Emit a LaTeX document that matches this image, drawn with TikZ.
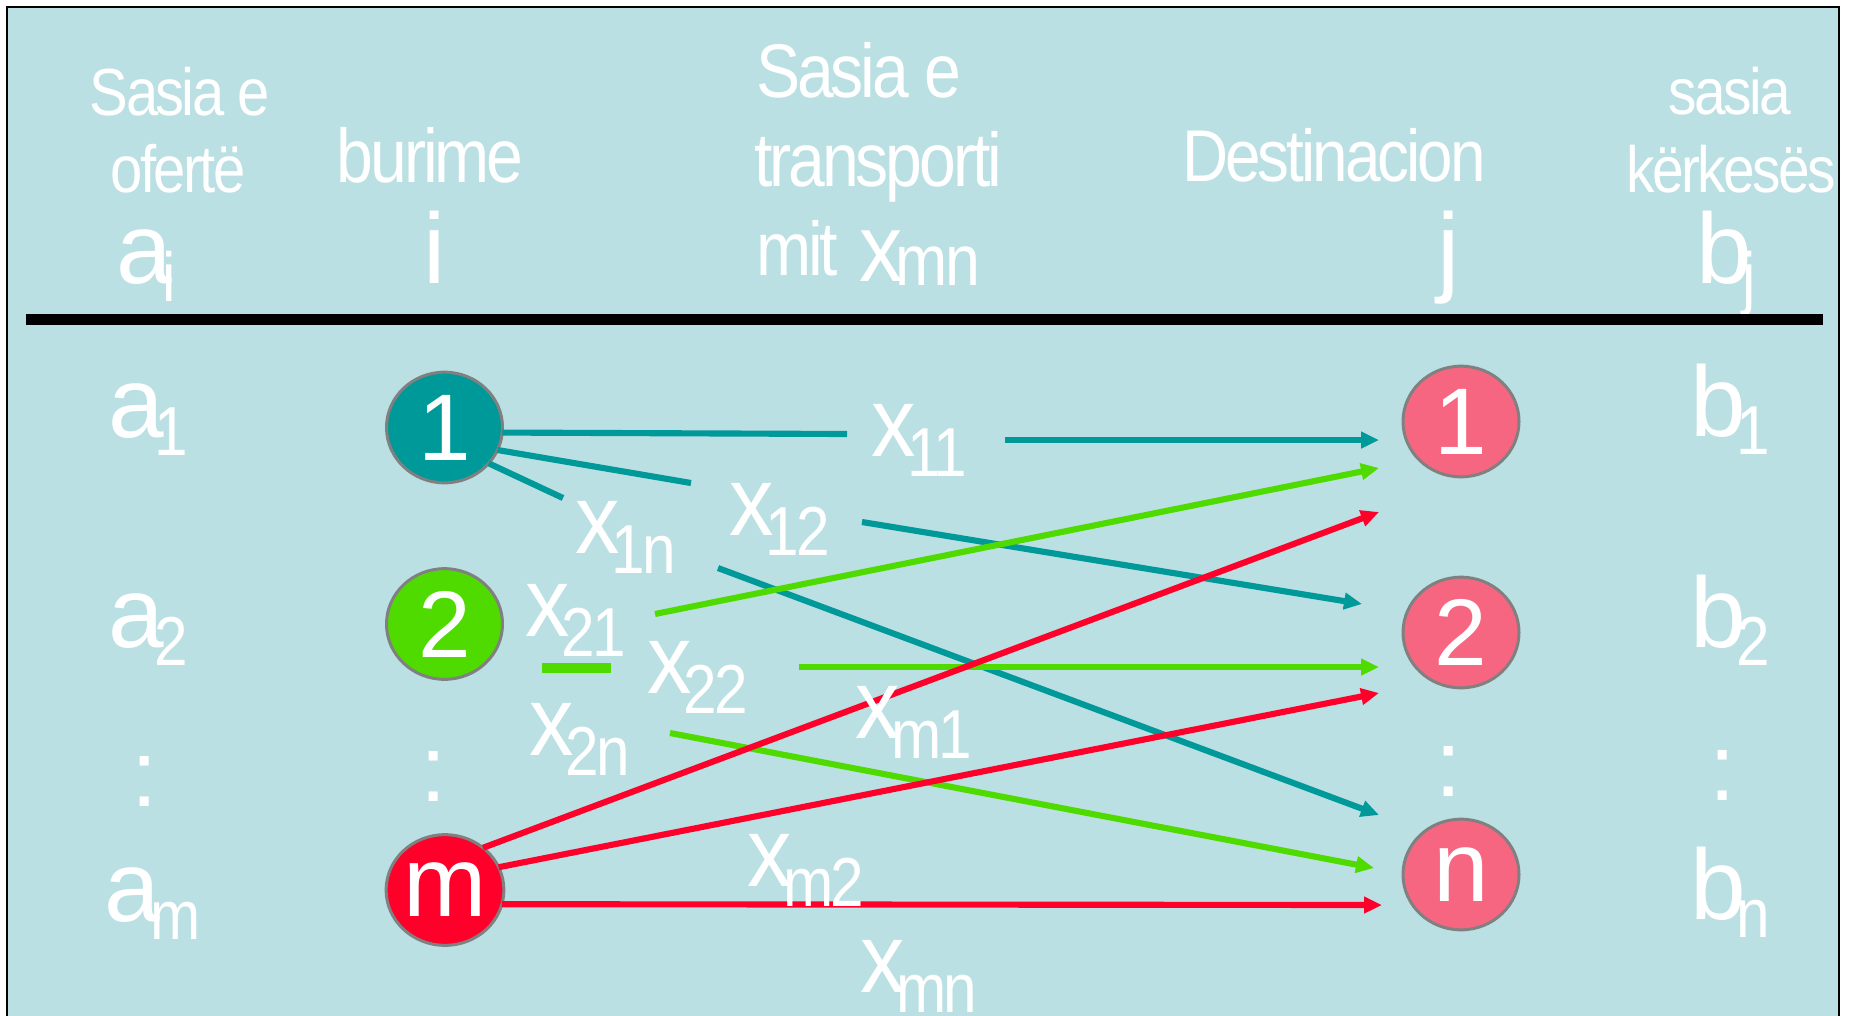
\documentclass[tikz,border=0pt]{standalone}
\usepackage{fontspec}
\usepackage{xcolor}
\usepackage{tikz}
\usetikzlibrary{shapes.geometric,arrows.meta}
\setmainfont{Liberation Sans}
\newfontfamily\hdfont{Liberation Sans}[FakeStretch=0.87,LetterSpace=-4]
\newfontfamily\lbfont{Liberation Sans}[FakeStretch=0.9]
\newcommand{\fsz}[1]{\fontsize{#1}{#1}\selectfont}
\newcommand{\xlab}[1]{{\lbfont\fsz{74}x}\kern-6pt\raisebox{-15pt}{\hdfont\fsz{52}#1}}
\newcommand{\sublab}[2]{{\fsz{75}#1}\kern-7pt\raisebox{-14pt}{\hdfont\fsz{52}#2}}
\definecolor{bgblue}{RGB}{187,224,227}
\definecolor{tealc}{RGB}{0,153,153}
\definecolor{greenc}{RGB}{80,219,0}
\definecolor{redc}{RGB}{255,0,43}
\definecolor{pinkc}{RGB}{247,102,129}
\begin{document}
\begin{tikzpicture}[x=0.75pt,y=0.75pt,yscale=-1,xscale=1,
  txt/.style={text=white,inner sep=0pt,outer sep=0pt},
  srcnode/.style={ellipse,draw=gray,line width=2.25pt,minimum width=87pt,minimum height=83pt,inner sep=0pt,outer sep=0pt,text=white,font=\fsz{71}},
  dstnode/.style={srcnode,fill=pinkc},
  arr/.style={-{Triangle[length=13.5pt,width=12pt]}},
  tline/.style={draw=tealc,line width=4.6pt},
  gline/.style={draw=greenc,line width=4.6pt},
  rline/.style={draw=redc,line width=4.6pt}]

\useasboundingbox (0,0) rectangle (1852,1015);
\draw [fill=bgblue,line width=1.5pt] (7,7) rectangle (1839,1040);

% header
\draw (180,115) node [txt,anchor=base,font=\hdfont\fsz{50}] (hqa) {Sasia e};
\draw (178,192) node [txt,anchor=base,font=\hdfont\fsz{50}] (hqb) {ofertë};
\draw (116,283) node [txt,anchor=base west] (hai) {\sublab{a}{i}};

\draw (430,182) node [txt,anchor=base,font=\hdfont\fsz{57}] (hsrc) {burime};
\draw (435,283) node [txt,anchor=base,font=\fsz{75}] (hi) {i};

\draw (756,97) node [txt,anchor=base west,font=\hdfont\fsz{57}] (hta) {Sasia e};
\draw (754,186) node [txt,anchor=base west,font=\hdfont\fsz{57}] (htb) {transporti};
\draw (756,275) node [txt,anchor=base west,font=\hdfont\fsz{57}] (htc) {mit\kern16pt\raisebox{-5pt}{\lbfont\fsz{72}x}\kern-5pt\raisebox{-8pt}{\hdfont\fsz{54}mn}};

\draw (1334,181) node [txt,anchor=base,font=\hdfont\fsz{55}] (hdst) {Destinacion};
\draw (1449,283) node [txt,anchor=base,font=\fsz{75}] (hj) {j};

\draw (1730,114) node [txt,anchor=base,font=\hdfont\fsz{49}] (hka) {sasia};
\draw (1731,192) node [txt,anchor=base,font=\hdfont\fsz{49}] (hkb) {kërkesës};
\draw (1696,283) node [txt,anchor=base west] (hbj) {\sublab{b}{j}};

\draw [line width=8.25pt] (26,319.5) -- (1823,319.5);

% supply and demand
\draw (108,437) node [txt,anchor=base west] (a1) {\sublab{a}{1}};
\draw (108,647) node [txt,anchor=base west] (a2) {\sublab{a}{2}};
\draw (145,806) node [txt,anchor=base,font=\fsz{71}] (adots) {:};
\draw (104,921) node [txt,anchor=base west] (am) {\sublab{a}{m}};

\draw (1690,436) node [txt,anchor=base west] (b1) {\sublab{b}{1}};
\draw (1690,647) node [txt,anchor=base west] (b2) {\sublab{b}{2}};
\draw (1723,800) node [txt,anchor=base,font=\fsz{71}] (bdots) {:};
\draw (1690,919) node [txt,anchor=base west] (bn) {\sublab{b}{n}};

% sources and destinations
\draw (444.5,427.5) node [srcnode,fill=tealc] (s1) {1};
\draw (444.5,624) node [srcnode,fill=greenc] (s2) {2};
\draw (434,801) node [txt,anchor=base,font=\fsz{71}] (sdots) {:};
\draw (445,890) node [srcnode,fill=redc,font=\fsz{75}] (sm) {m};

\draw (1461,421.5) node [dstnode] (d1) {1};
\draw (1461,632.5) node [dstnode] (d2) {2};
\draw (1449,796) node [txt,anchor=base,font=\fsz{71}] (ddots) {:};
\draw (1461,874.5) node [dstnode,font=\fsz{75}] (dn) {n};

% line breaks and arrow ends
\coordinate (c11a) at (847,434);
\coordinate (c11b) at (1005,440);
\coordinate (t11) at (1379,440);
\coordinate (c12a) at (691,483);
\coordinate (c12b) at (862,522);
\coordinate (t12) at (1362,604);
\coordinate (c1na) at (563,498);
\coordinate (c1nb) at (718,568);
\coordinate (t1n) at (1379,815);
\coordinate (c21) at (655,614);
\coordinate (t21) at (1379,468);
\coordinate (c22s) at (542,668);
\coordinate (c22e) at (611,668);
\coordinate (c22b) at (799,667);
\coordinate (t22) at (1379,667);
\coordinate (c2n) at (670,733);
\coordinate (t2n) at (1374,868);
\coordinate (tm1) at (1379,512);
\coordinate (tm2) at (1379,693);
\coordinate (tmn) at (1382,905);

% from source 1
\draw [tline] (s1.-5) -- (c11a);
\draw [tline,arr] (c11b) -- (t11);
\draw [tline] (s1.-23) -- (c12a);
\draw [tline,arr] (c12b) -- (t12);
\draw [tline] (s1.-39) -- (c1na);
\draw [tline,arr] (c1nb) -- (t1n);

% from source 2
\draw [gline,arr] (c21) -- (t21);
\draw [gline,line width=7.5pt] (c22s) -- (c22e);
\draw [gline,arr] (c22b) -- (t22);
\draw [gline,arr] (c2n) -- (t2n);

% from source m
\draw [rline,arr] (sm.48) -- (tm1);
\draw [rline,arr] (sm.23) -- (tm2);
\draw [rline,arr] (sm.-14) -- (tmn);

% amounts
\draw (871,456) node [txt,anchor=base west] (x11) {\xlab{11}};
\draw (729,535) node [txt,anchor=base west] (x12) {\xlab{12}};
\draw (575,553) node [txt,anchor=base west] (x1n) {\xlab{1n}};
\draw (525,636) node [txt,anchor=base west] (x21) {\xlab{21}};
\draw (647,693) node [txt,anchor=base west] (x22) {\xlab{22}};
\draw (529,755) node [txt,anchor=base west] (x2n) {\xlab{2n}};
\draw (855,738) node [txt,anchor=base west] (xm1) {\xlab{m1}};
\draw (747,886) node [txt,anchor=base west] (xm2) {\xlab{m2}};
\draw (860,992) node [txt,anchor=base west] (xmn) {\xlab{mn}};

\end{tikzpicture}
\end{document}
